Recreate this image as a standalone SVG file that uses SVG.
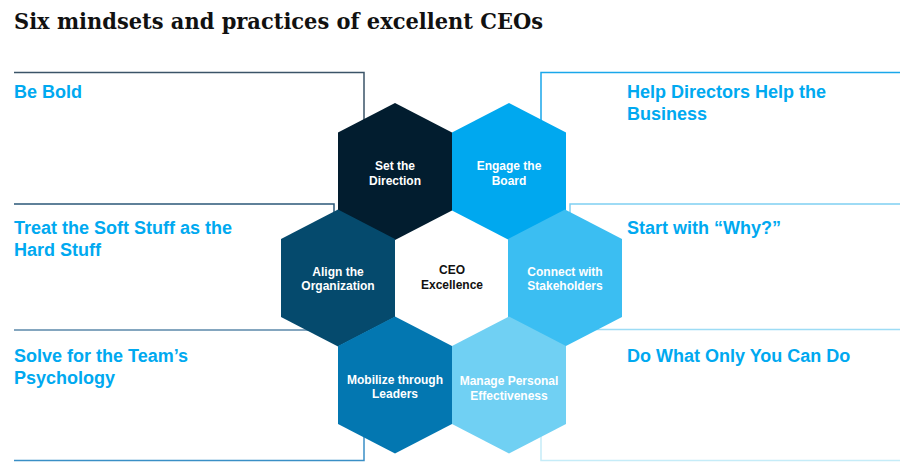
<svg xmlns="http://www.w3.org/2000/svg" width="900" height="462" viewBox="0 0 900 462">
<defs>
<style>
.title{font-family:"DejaVu Serif","Liberation Serif",serif;font-weight:bold;font-size:22.5px;fill:#111111}
.ph{font-family:"Liberation Sans",Arial,sans-serif;font-weight:bold;font-size:18px;fill:#00a9f0}
.hx{font-family:"Liberation Sans",Arial,sans-serif;font-weight:bold;font-size:12px;fill:#ffffff;text-anchor:middle}
.ctr{font-family:"Liberation Sans",Arial,sans-serif;font-weight:bold;font-size:12px;fill:#111111;text-anchor:middle}
.ln{fill:none;stroke-width:1.5}
</style>
<polygon id="hexshape" points="0,-68.5 57,-39 57,39 0,68.5 -57,39 -57,-39"/>
</defs>
<rect width="900" height="462" fill="#ffffff"/>
<text class="title" x="14" y="29" textLength="529" lengthAdjust="spacingAndGlyphs">Six mindsets and practices of excellent CEOs</text>

<g id="connectors">
<polyline class="ln" stroke="#3b5468" points="14,72.5 364,72.5 364,125"/>
<polyline class="ln" stroke="#1aa7ea" points="900,72.5 541,72.5 541,125"/>
<polyline class="ln" stroke="#2b5878" points="14,204 334,204 334,218"/>
<polyline class="ln" stroke="#5b89aa" points="14,330 320,330"/>
<polyline class="ln" stroke="#3a8fc6" points="14,460.5 364,460.5 364,430"/>
<polyline class="ln" stroke="#7fcff2" points="900,204 570,204 570,218"/>
<polyline class="ln" stroke="#9ddcf5" points="590,329.5 900,329.5"/>
<polyline class="ln" stroke="#c5ecf8" points="541,430 541,460.5 900,460.5"/>
</g>

<g id="hex-set">
<use href="#hexshape" x="395" y="171.5" fill="#021d2f"/>
<text class="hx" x="395" y="170">Set the</text>
<text class="hx" x="395" y="184.5">Direction</text>
</g>
<g id="hex-engage">
<use href="#hexshape" x="509" y="171.5" fill="#00a8ef"/>
<text class="hx" x="509" y="170">Engage the</text>
<text class="hx" x="509" y="184.5">Board</text>
</g>
<g id="hex-align">
<use href="#hexshape" x="338" y="278" fill="#054a6d"/>
<text class="hx" x="338" y="275.5">Align the</text>
<text class="hx" x="338" y="290">Organization</text>
</g>
<g id="hex-connect">
<use href="#hexshape" x="565" y="278" fill="#3bbef2"/>
<text class="hx" x="565" y="275.5">Connect with</text>
<text class="hx" x="565" y="290">Stakeholders</text>
</g>
<g id="hex-mobilize">
<use href="#hexshape" x="395" y="385" fill="#0377b1"/>
<text class="hx" x="395" y="383.5">Mobilize through</text>
<text class="hx" x="395" y="398">Leaders</text>
</g>
<g id="hex-manage">
<use href="#hexshape" x="509" y="385" fill="#70d0f3"/>
<text class="hx" x="509" y="385">Manage Personal</text>
<text class="hx" x="509" y="399.5">Effectiveness</text>
</g>
<g id="hex-center">
<text class="ctr" x="452" y="274">CEO</text>
<text class="ctr" x="452" y="288.5">Excellence</text>
</g>

<g id="panel-bebold"><text class="ph" x="14" y="98">Be Bold</text></g>
<g id="panel-help">
<text class="ph" x="627" y="98">Help Directors Help the</text>
<text class="ph" x="627" y="120">Business</text>
</g>
<g id="panel-treat">
<text class="ph" x="14" y="234">Treat the Soft Stuff as the</text>
<text class="ph" x="14" y="256">Hard Stuff</text>
</g>
<g id="panel-why"><text class="ph" x="627" y="234">Start with “Why?”</text></g>
<g id="panel-solve">
<text class="ph" x="14" y="362">Solve for the Team’s</text>
<text class="ph" x="14" y="384">Psychology</text>
</g>
<g id="panel-do"><text class="ph" x="627" y="362">Do What Only You Can Do</text></g>
</svg>
